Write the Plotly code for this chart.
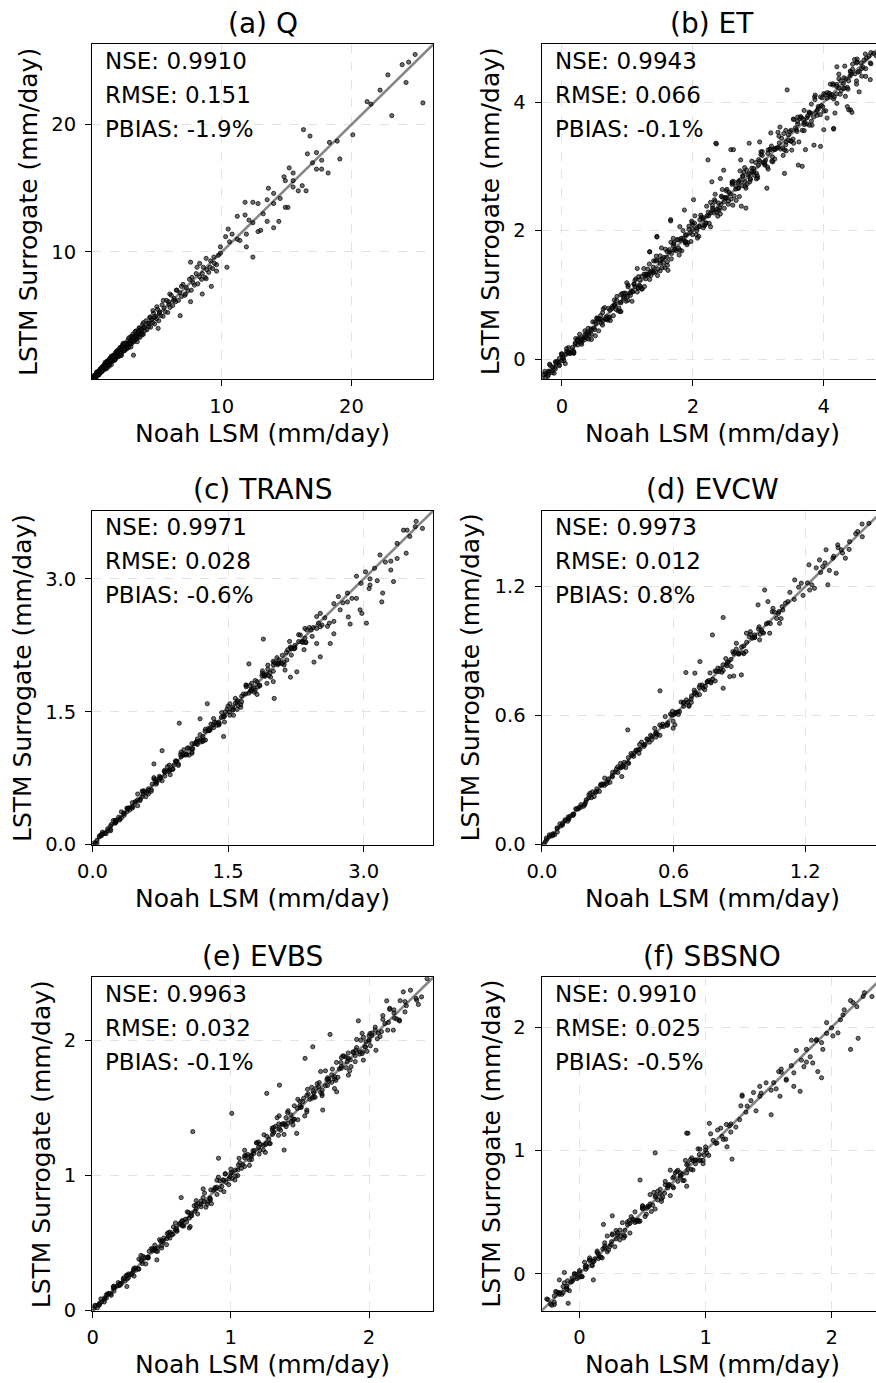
import plotly.graph_objects as go

# (Noah LSM, LSTM surrogate) daily values in mm/day for each flux
q_pairs = [
    (0.03, 0.06), (0.07, 0.02), (0.09, 0.15), (0.12, 0.09), (0.16, 0.04), (0.18, 0.26), (0.22, 0.13), (0.25, 0.31),
    (0.28, 0.2), (0.3, 0.12), (0.33, 0.42), (0.36, 0.27), (0.39, 0.35), (0.42, 0.55), (0.44, 0.31), (0.47, 0.49),
    (0.5, 0.4), (0.53, 0.66), (0.55, 0.43), (0.58, 0.52), (0.61, 0.75), (0.63, 0.5), (0.66, 0.62), (0.7, 0.84),
    (0.72, 0.6), (0.75, 0.7), (0.78, 0.95), (0.81, 0.66), (0.84, 0.9), (0.87, 0.78), (0.9, 1.1), (0.93, 0.8),
    (0.96, 0.99), (1.0, 1.2), (1.02, 0.88), (1.06, 1.07), (1.1, 1.3), (1.13, 0.98), (1.17, 1.22), (1.2, 1.05),
    (1.24, 1.45), (1.27, 1.16), (1.31, 1.36), (1.35, 1.22), (1.38, 1.6), (1.42, 1.3), (1.46, 1.52), (1.5, 1.38),
    (1.53, 1.75), (1.57, 1.45), (1.61, 1.66), (1.65, 1.5), (1.68, 1.92), (1.72, 1.6), (1.76, 1.82), (1.8, 1.68),
    (1.84, 2.1), (1.88, 1.74), (1.92, 1.98), (1.97, 1.86), (2.01, 2.28), (2.05, 1.9), (2.1, 2.14), (2.14, 2.0),
    (2.19, 2.5), (2.23, 2.04), (2.28, 2.33), (2.33, 2.2), (2.37, 2.68), (2.42, 2.22), (2.47, 2.5), (2.52, 2.38),
    (2.57, 2.86), (2.62, 2.36), (2.67, 2.7), (2.72, 2.55), (2.78, 3.1), (2.83, 2.5), (2.88, 2.9), (2.94, 2.75),
    (3.0, 3.35), (3.05, 2.8), (3.1, 3.15), (3.16, 3.55), (3.22, 2.95), (3.28, 3.4), (3.33, 3.1), (3.4, 3.8),
    (3.46, 3.2), (3.52, 3.6), (3.58, 3.35), (3.65, 4.05), (3.7, 3.3), (3.77, 3.85), (3.83, 3.6), (3.9, 4.3),
    (3.96, 3.55), (4.03, 4.1), (4.1, 3.85), (4.17, 4.6), (4.24, 3.9), (4.3, 4.4), (4.38, 4.15), (4.45, 4.85),
    (4.52, 4.1), (4.6, 4.7), (4.68, 4.45), (4.75, 5.2), (4.83, 4.35), (4.9, 4.95), (4.98, 4.75), (5.06, 5.5),
    (5.15, 4.6), (5.22, 5.3), (5.3, 5.0), (5.4, 5.85), (5.48, 4.95), (5.56, 5.6), (5.65, 5.3), (5.75, 6.2),
    (5.84, 5.25), (5.93, 5.9), (6.02, 5.65), (6.12, 6.6), (6.22, 5.8), (6.33, 6.35), (6.45, 6.1), (6.55, 7.0),
    (6.66, 6.2), (6.78, 6.8), (6.9, 6.5), (7.02, 7.45), (7.15, 6.6), (7.27, 7.2), (7.4, 6.95), (7.52, 7.85),
    (7.65, 7.0), (7.78, 7.6), (7.9, 7.4), (8.03, 8.3), (8.16, 7.5), (8.3, 8.05), (8.45, 7.85), (8.58, 8.8),
    (8.72, 8.0), (8.86, 8.6), (9.0, 8.4), (9.15, 9.3), (9.3, 8.7), (9.45, 9.1), (9.6, 9.0), (9.75, 9.75),
    (0.1, 0.11), (0.2, 0.17), (0.3, 0.31), (0.4, 0.42), (0.5, 0.47), (0.6, 0.63), (0.7, 0.72), (0.8, 0.83),
    (0.9, 0.88), (1.0, 1.04), (1.1, 1.12), (1.2, 1.19), (1.3, 1.33), (1.4, 1.42), (1.5, 1.49), (1.6, 1.64),
    (1.7, 1.72), (1.8, 1.79), (1.9, 1.95), (2.0, 2.03), (2.2, 2.19), (2.4, 2.46), (2.6, 2.62), (2.8, 2.78),
    (3.0, 3.06), (3.3, 3.34), (3.6, 3.62), (4.0, 4.05), (4.4, 4.42), (4.8, 4.86),
    (0.05, 0.02), (0.13, 0.28), (0.21, 0.2), (0.29, 0.1), (0.37, 0.45), (0.45, 0.58), (0.53, 0.46), (0.61, 0.65),
    (0.69, 0.55), (0.77, 0.95), (0.85, 0.82), (0.93, 1.03), (1.01, 0.81), (1.09, 1.1), (1.17, 1.43), (1.25, 1.11),
    (1.33, 1.03), (1.41, 1.51), (1.49, 1.82), (1.57, 1.49), (1.65, 1.86), (1.73, 1.49), (1.81, 1.86), (1.89, 1.72),
    (1.97, 2.26), (2.05, 2.01), (2.13, 2.33), (2.21, 1.86), (2.29, 2.4), (2.37, 2.68), (2.45, 2.31), (2.53, 2.26),
    (2.61, 2.77), (2.69, 2.41), (2.77, 2.81), (2.85, 3.26), (2.93, 2.81), (3.01, 2.55), (3.09, 3.39), (3.17, 3.24),
    (3.25, 3.0), (3.33, 3.75), (3.41, 3.38), (3.49, 2.96), (3.57, 3.8), (3.65, 4.01), (3.73, 3.55), (3.81, 3.92),
    (3.89, 3.5), (3.97, 4.45),
    (0.06, 0.04), (0.12, 0.27), (0.18, 0.04), (0.24, 0.28), (0.3, 0.18), (0.36, 0.57), (0.42, 0.4), (0.48, 0.59),
    (0.54, 0.35), (0.6, 0.66), (0.66, 0.83), (0.72, 0.64), (0.78, 0.63), (0.84, 0.93), (0.9, 0.75), (0.96, 0.98),
    (1.02, 1.34), (1.08, 0.99), (1.14, 0.85), (1.2, 1.39), (1.26, 1.3), (1.32, 1.16), (1.38, 1.65), (1.44, 1.42),
    (1.5, 1.16), (1.56, 1.7), (1.62, 1.85), (1.68, 1.56), (1.74, 1.81), (1.8, 1.55), (1.86, 2.17), (1.92, 1.87),
    (1.98, 2.16), (2.04, 1.78), (2.1, 2.11), (2.16, 2.49), (2.22, 2.04), (2.28, 1.89), (2.34, 2.47), (2.4, 2.83),
    (2.46, 2.36), (2.52, 2.8),
    (24.9, 25.5), (24.4, 24.9), (23.9, 24.7), (22.8, 23.9), (24.2, 23.3), (22.2, 22.7), (25.5, 21.7), (21.2, 21.8),
    (21.5, 21.6), (23.1, 20.7), (20.1, 19.2), (16.3, 19.6), (16.8, 19.1), (18.3, 18.6), (18.9, 18.7), (19.1, 17.3),
    (16.6, 17.7), (17.3, 17.8), (17.0, 17.0), (17.7, 17.2), (17.3, 16.5), (18.2, 16.2), (17.7, 16.5), (15.2, 16.6),
    (15.5, 16.2), (14.8, 15.9), (14.9, 15.6), (15.5, 15.1), (16.2, 15.2), (15.9, 14.8), (16.5, 14.8), (15.5, 15.6),
    (13.6, 15.0), (14.0, 14.6), (14.5, 14.2), (14.9, 13.5), (15.1, 13.5), (14.0, 13.8), (13.5, 14.1), (11.8, 13.9),
    (12.4, 13.9), (12.8, 13.8), (13.2, 13.0), (14.4, 12.4), (14.0, 11.9), (13.5, 12.4), (12.8, 11.6), (11.8, 12.9),
    (12.1, 12.5), (11.2, 12.8), (12.4, 12.3), (13.0, 11.7), (11.9, 11.4), (11.9, 10.4), (12.4, 9.6), (10.5, 11.8),
    (10.8, 11.4), (11.2, 11.0), (11.4, 10.9), (10.6, 10.8), (10.3, 11.2), (9.9, 10.4), (10.4, 8.8), (9.9, 9.9),
    (9.4, 9.6), (8.8, 9.5), (8.3, 9.1), (9.1, 8.8), (9.6, 8.5), (7.6, 9.2), (8.1, 8.8), (8.5, 8.3),
    (7.7, 8.0), (8.8, 7.9), (9.2, 7.3), (8.5, 6.7), (7.6, 6.1), (6.9, 7.3), (7.2, 6.7), (6.5, 7.0),
    (6.0, 6.7), (6.3, 6.2), (6.8, 5.0), (5.9, 6.1), (5.5, 6.2), (5.0, 5.7), (5.2, 5.2), (4.7, 5.4),
    (5.1, 4.0), (3.2, 1.9), (4.5, 4.9),
]

et_pairs = [
    (-0.28, -0.24), (-0.25, -0.29), (-0.21, -0.2), (-0.19, -0.08), (-0.15, -0.18), (-0.12, -0.22), (-0.1, -0.04), (-0.06, -0.05),
    (-0.04, -0.09), (-0.01, 0.08), (0.02, 0.01), (0.05, -0.07), (0.07, 0.12), (0.1, 0.18), (0.13, 0.09), (0.16, 0.18),
    (0.18, 0.09), (0.21, 0.32), (0.24, 0.22), (0.27, 0.33), (0.3, 0.23), (0.33, 0.33), (0.35, 0.44), (0.38, 0.33),
    (0.41, 0.31), (0.44, 0.47), (0.47, 0.58), (0.5, 0.46), (0.53, 0.64), (0.56, 0.44), (0.59, 0.62), (0.62, 0.53),
    (0.65, 0.8), (0.68, 0.66), (0.71, 0.79), (0.74, 0.6), (0.77, 0.82), (0.8, 0.92), (0.83, 0.77), (0.86, 0.75),
    (0.89, 0.74), (0.92, 1.02), (0.95, 0.97), (0.98, 0.9), (1.01, 1.15), (1.04, 1.03), (1.07, 0.9), (1.1, 1.17),
    (1.13, 1.25), (1.16, 1.1), (1.19, 1.23), (1.22, 1.09), (1.25, 1.41), (1.28, 1.25), (1.31, 1.4), (1.34, 1.24),
    (1.37, 1.37), (1.4, 1.53), (1.43, 1.36), (1.46, 1.3), (1.49, 1.54), (1.52, 1.73), (1.55, 1.5), (1.58, 1.71),
    (1.61, 1.46), (1.64, 1.67), (1.67, 1.56), (1.7, 1.88), (1.73, 1.71), (1.76, 1.86), (1.79, 1.62), (1.82, 1.88),
    (1.85, 2.0), (1.88, 1.81), (1.91, 1.78), (1.94, 2.02), (1.97, 1.83), (2.0, 2.02), (2.03, 2.23), (2.06, 2.0),
    (2.09, 1.91), (2.12, 2.24), (2.15, 2.18), (2.18, 2.08), (2.21, 2.38), (2.24, 2.23), (2.27, 2.06), (2.3, 2.39),
    (2.33, 2.48), (2.36, 2.29), (2.39, 2.43), (2.42, 2.26), (2.45, 2.64), (2.48, 2.45), (2.51, 2.62), (2.54, 2.41),
    (2.57, 2.57), (2.6, 2.76), (2.63, 2.54), (2.66, 2.47), (2.69, 2.75), (2.72, 2.93), (2.75, 2.7), (2.78, 2.91),
    (2.81, 2.66), (2.84, 2.87), (2.87, 2.76), (2.9, 3.08), (2.93, 2.91), (2.96, 3.06), (2.99, 2.82), (3.02, 3.08),
    (3.06, 3.23), (3.1, 3.02), (3.14, 2.99), (3.18, 3.27), (3.22, 3.07), (3.26, 3.28), (3.3, 3.53), (3.34, 3.27),
    (3.38, 3.17), (3.42, 3.56), (3.46, 3.49), (3.5, 3.39), (3.54, 3.73), (3.58, 3.57), (3.62, 3.38), (3.66, 3.76),
    (3.7, 3.87), (3.74, 3.66), (3.78, 3.83), (3.82, 3.64), (3.86, 4.08), (3.9, 3.87), (3.95, 4.08), (4.0, 3.86),
    (4.05, 4.06), (4.1, 4.28), (4.15, 4.05), (4.2, 3.98), (4.26, 4.33), (4.32, 4.56), (4.38, 4.33), (4.44, 4.59),
    (4.5, 4.33), (4.57, 4.61), (4.64, 4.52), (4.72, 4.77), (4.8, 4.72),
    (-0.2, -0.186), (-0.1, -0.151), (0.0, 0.063), (0.1, 0.09), (0.2, 0.236), (0.3, 0.258), (0.4, 0.401), (0.5, 0.579),
    (0.6, 0.558), (0.7, 0.606), (0.8, 0.831), (0.9, 1.003), (1.0, 0.976), (1.1, 1.166), (1.2, 1.127), (1.3, 1.316),
    (1.4, 1.346), (1.5, 1.608), (1.6, 1.588), (1.7, 1.758), (1.8, 1.697), (1.9, 1.933), (2.0, 2.091), (2.1, 2.059),
    (2.2, 2.121), (2.3, 2.346), (2.4, 2.318), (2.5, 2.511), (2.6, 2.72), (2.7, 2.664), (2.8, 2.69), (2.9, 2.971),
    (3.0, 3.016), (3.1, 3.033), (3.2, 3.316), (3.3, 3.293), (3.4, 3.256), (3.5, 3.562), (3.6, 3.699), (3.7, 3.651),
    (3.8, 3.83), (3.9, 3.794), (4.0, 4.132), (4.1, 4.079), (4.2, 4.275), (4.3, 4.213), (4.4, 4.403), (4.5, 4.61),
    (4.6, 4.542),
    (-0.25, -0.226), (-0.18, -0.1), (-0.11, -0.128), (-0.04, 0.011), (0.03, -0.027), (0.1, 0.113), (0.17, 0.128), (0.24, 0.309),
    (0.31, 0.302), (0.38, 0.417), (0.45, 0.384), (0.52, 0.552), (0.59, 0.677), (0.66, 0.621), (0.73, 0.654), (0.8, 0.844),
    (0.87, 0.792), (0.94, 0.95), (1.01, 1.125), (1.08, 1.046), (1.15, 1.045), (1.22, 1.288), (1.29, 1.305), (1.36, 1.303),
    (1.43, 1.527), (1.5, 1.492), (1.57, 1.422), (1.64, 1.703), (1.71, 1.812), (1.78, 1.729), (1.85, 1.881), (1.92, 1.811),
    (1.99, 2.126), (2.06, 2.038), (2.13, 2.207), (2.2, 2.111), (2.27, 2.273), (2.34, 2.452), (2.41, 2.35), (2.48, 2.346),
    (2.55, 2.595), (2.62, 2.766), (2.69, 2.656), (2.76, 2.854), (2.83, 2.725), (2.9, 2.923), (2.97, 2.893), (3.04, 3.184),
    (3.11, 3.094), (3.18, 3.257), (3.25, 3.114), (3.32, 3.364), (3.39, 3.511), (3.46, 3.406), (3.53, 3.425), (3.6, 3.661),
    (3.67, 3.561), (3.74, 3.754), (3.81, 3.969), (3.88, 3.833), (3.95, 3.805), (4.02, 4.115), (4.09, 4.111), (4.16, 4.081),
    (4.23, 4.365), (4.3, 4.291), (4.37, 4.202), (4.44, 4.512), (4.51, 4.625), (4.58, 4.522), (4.65, 4.685), (4.72, 4.596),
    (-0.215, -0.267), (-0.145, -0.123), (-0.075, -0.039), (-0.005, -0.023), (0.065, 0.076), (0.135, 0.097), (0.205, 0.253), (0.275, 0.267),
    (0.345, 0.372), (0.415, 0.384), (0.485, 0.486), (0.555, 0.614), (0.625, 0.593), (0.695, 0.625), (0.765, 0.788), (0.835, 0.912),
    (0.905, 0.887), (0.975, 1.024), (1.045, 0.99), (1.115, 1.127), (1.185, 1.145), (1.255, 1.321), (1.325, 1.318), (1.395, 1.431),
    (1.465, 1.402), (1.535, 1.56), (1.605, 1.673), (1.675, 1.644), (1.745, 1.686), (1.815, 1.85), (1.885, 1.824), (1.955, 1.963),
    (2.025, 2.115), (2.095, 2.068), (2.165, 2.083), (2.235, 2.288), (2.305, 2.317), (2.375, 2.33), (2.445, 2.521), (2.515, 2.51),
    (2.585, 2.49), (2.655, 2.696), (2.725, 2.79), (2.795, 2.762), (2.865, 2.885), (2.935, 2.865), (3.005, 3.104), (3.075, 3.059),
    (3.145, 3.202), (3.215, 3.149), (3.285, 3.287), (3.355, 3.437), (3.425, 3.381), (3.495, 3.397), (3.565, 3.598), (3.635, 3.742),
    (3.705, 3.68), (3.775, 3.844), (3.845, 3.768), (3.915, 3.932), (3.985, 3.929), (4.055, 4.148), (4.125, 4.115), (4.195, 4.245),
    (4.265, 4.177), (4.335, 4.363), (4.405, 4.483), (4.475, 4.44), (4.545, 4.477), (4.615, 4.655),
    (-0.26, -0.19), (-0.205, -0.237), (-0.15, -0.211), (-0.095, -0.059), (-0.04, -0.103), (0.015, 0.023), (0.07, 0.163), (0.125, 0.097),
    (0.18, 0.095), (0.235, 0.29), (0.29, 0.302), (0.345, 0.299), (0.4, 0.479), (0.455, 0.45), (0.51, 0.363), (0.565, 0.628),
    (0.62, 0.721), (0.675, 0.625), (0.73, 0.761), (0.785, 0.676), (0.84, 0.975), (0.895, 0.874), (0.95, 1.027), (1.005, 0.916),
    (1.06, 1.063), (1.115, 1.227), (1.17, 1.11), (1.225, 1.092), (1.28, 1.324), (1.335, 1.48), (1.39, 1.356), (1.445, 1.538),
    (1.5, 1.373), (1.555, 1.583), (1.61, 1.517), (1.665, 1.818), (1.72, 1.703), (1.775, 1.857), (1.83, 1.684), (1.885, 1.932),
    (1.94, 2.069), (1.995, 1.937), (2.05, 1.938), (2.105, 2.17), (2.16, 2.044), (2.215, 2.23), (2.27, 2.44), (2.325, 2.275),
    (2.38, 2.225), (2.435, 2.536), (2.49, 2.512), (2.545, 2.461), (2.6, 2.744), (2.655, 2.646), (2.71, 2.53), (2.765, 2.842),
    (2.82, 2.943), (2.875, 2.813), (2.93, 2.967), (2.985, 2.852), (3.04, 3.227), (3.095, 3.065), (3.15, 3.256), (3.205, 3.082),
    (3.26, 3.264), (3.315, 3.47), (3.37, 3.287), (3.425, 3.241), (3.48, 3.541), (3.535, 3.736), (3.59, 3.543), (3.645, 3.774),
    (3.7, 3.556), (3.755, 3.787), (3.81, 3.704), (3.865, 4.039), (3.92, 3.901), (3.975, 4.068), (4.03, 3.865), (4.085, 4.138),
    (4.14, 4.286), (4.195, 4.129), (4.25, 4.123), (4.305, 4.379), (4.36, 4.229), (4.415, 4.432), (4.47, 4.663), (4.525, 4.468),
    (4.58, 4.404), (4.635, 4.749), (4.69, 4.715),
    (0.0, 0.081), (0.09, 0.108), (0.18, 0.113), (0.27, 0.386), (0.36, 0.353), (0.45, 0.306), (0.54, 0.632), (0.63, 0.779),
    (0.72, 0.646), (0.81, 0.855), (0.9, 0.74), (0.99, 1.188), (1.08, 1.049), (1.17, 1.283), (1.26, 1.13), (1.35, 1.355),
    (1.44, 1.604), (1.53, 1.423), (1.62, 1.381), (1.71, 1.79), (1.8, 2.061), (1.89, 1.83), (1.98, 2.148), (2.07, 1.883),
    (2.16, 2.201), (2.25, 2.113), (2.34, 2.566), (2.43, 2.405), (2.52, 2.641), (2.61, 2.396), (2.7, 2.769), (2.79, 2.98),
    (2.88, 2.795), (2.97, 2.805), (3.06, 3.169), (3.15, 2.958), (3.24, 3.265), (3.33, 3.612), (3.42, 3.336), (3.51, 3.253),
    (3.6, 3.767), (3.69, 3.727), (3.78, 3.64), (3.87, 4.109), (3.96, 3.945), (4.05, 3.752), (4.14, 4.267), (4.23, 4.435),
    (4.32, 4.218), (4.41, 4.472), (4.5, 4.28),
    (2.35, 3.36), (2.23, 3.1), (2.58, 3.26), (2.86, 3.36), (3.02, 3.38), (3.19, 3.52), (3.61, 3.02), (3.67, 3.0),
    (3.95, 3.31), (4.15, 3.58), (3.4, 2.89), (3.13, 2.66), (2.81, 2.35), (2.74, 2.38), (2.01, 2.48), (1.87, 2.32),
    (1.66, 2.17), (1.45, 1.91), (1.34, 1.67), (1.15, 1.41), (2.73, 3.1), (2.47, 2.94), (2.42, 2.81), (2.29, 2.76),
    (3.72, 3.26), (3.54, 3.36), (3.85, 3.33), (4.0, 3.57), (4.17, 3.83), (4.41, 3.88), (4.43, 3.84), (4.36, 3.93),
    (3.44, 4.19), (4.2, 4.55), (4.51, 4.67), (4.64, 4.4), (4.71, 4.35), (4.38, 3.88), (4.15, 3.59), (4.33, 4.09),
    (4.23, 4.22), (4.54, 4.16), (4.71, 4.61), (4.76, 4.76), (2.36, 3.35), (2.62, 3.26), (1.45, 1.9), (1.66, 2.15),
    (1.34, 1.67),
]

trans_pairs = [
    (0.02, 0.02), (0.05, 0.01), (0.08, 0.1), (0.11, 0.14), (0.14, 0.13), (0.17, 0.18), (0.2, 0.17), (0.23, 0.27),
    (0.26, 0.25), (0.29, 0.31), (0.32, 0.3), (0.35, 0.35), (0.38, 0.41), (0.41, 0.39), (0.44, 0.41), (0.47, 0.48),
    (0.5, 0.57), (0.53, 0.51), (0.56, 0.6), (0.59, 0.54), (0.62, 0.63), (0.65, 0.62), (0.68, 0.74), (0.71, 0.7),
    (0.74, 0.77), (0.77, 0.72), (0.8, 0.82), (0.83, 0.88), (0.86, 0.84), (0.89, 0.85), (0.92, 0.94), (0.95, 0.91),
    (0.98, 0.99), (1.01, 1.07), (1.04, 1.02), (1.07, 1.01), (1.1, 1.14), (1.13, 1.14), (1.16, 1.13), (1.19, 1.24),
    (1.22, 1.22), (1.25, 1.18), (1.28, 1.31), (1.31, 1.36), (1.34, 1.32), (1.37, 1.38), (1.4, 1.35), (1.43, 1.49),
    (1.46, 1.45), (1.49, 1.53), (1.52, 1.46), (1.55, 1.55), (1.58, 1.65), (1.61, 1.57), (1.64, 1.55), (1.67, 1.7),
    (1.7, 1.8), (1.73, 1.71), (1.76, 1.82), (1.79, 1.72), (1.82, 1.84), (1.85, 1.8), (1.88, 1.96), (1.91, 1.9),
    (1.94, 1.98), (1.97, 1.89), (2.0, 2.03), (2.04, 2.11), (2.08, 2.05), (2.12, 2.06), (2.16, 2.2), (2.2, 2.14),
    (2.24, 2.25), (2.28, 2.37), (2.32, 2.29), (2.36, 2.28), (2.4, 2.45), (2.44, 2.45), (2.48, 2.44), (2.52, 2.61),
    (2.57, 2.56), (2.62, 2.5), (2.67, 2.72), (2.72, 2.8), (2.77, 2.73), (2.82, 2.84), (2.87, 2.78), (2.92, 3.03),
    (2.97, 2.95), (3.02, 3.08), (3.07, 3.0), (3.12, 3.12), (3.18, 3.27), (3.24, 3.19), (3.3, 3.2), (3.37, 3.4),
    (3.44, 3.55), (3.51, 3.48), (3.58, 3.65), (3.65, 3.57),
    (0.1, 0.1), (0.25, 0.24), (0.4, 0.41), (0.55, 0.54), (0.7, 0.71), (0.85, 0.84), (1.0, 1.01), (1.15, 1.14),
    (1.3, 1.31), (1.45, 1.44), (1.6, 1.61), (1.75, 1.74), (1.9, 1.91), (2.05, 2.03), (2.2, 2.21), (2.35, 2.33),
    (2.5, 2.5),
    (0.03, 0.01), (0.075, 0.088), (0.12, 0.123), (0.165, 0.154), (0.21, 0.228), (0.255, 0.254), (0.3, 0.277), (0.345, 0.355),
    (0.39, 0.406), (0.435, 0.427), (0.48, 0.485), (0.525, 0.495), (0.57, 0.607), (0.615, 0.609), (0.66, 0.681), (0.705, 0.681),
    (0.75, 0.751), (0.795, 0.826), (0.84, 0.824), (0.885, 0.848), (0.93, 0.942), (0.975, 1.015), (1.02, 1.011), (1.065, 1.091),
    (1.11, 1.081), (1.155, 1.161), (1.2, 1.179), (1.245, 1.279), (1.29, 1.286), (1.335, 1.353), (1.38, 1.347), (1.425, 1.436),
    (1.47, 1.499), (1.515, 1.496), (1.56, 1.524), (1.605, 1.626), (1.65, 1.613), (1.695, 1.7), (1.74, 1.795), (1.785, 1.769),
    (1.83, 1.78), (1.875, 1.907), (1.92, 1.927), (1.965, 1.938), (2.01, 2.056), (2.055, 2.052), (2.1, 2.042), (2.145, 2.17),
    (2.19, 2.23), (2.235, 2.215), (2.28, 2.292), (2.325, 2.282), (2.37, 2.423),
    (0.05, 0.047), (0.1, 0.115), (0.15, 0.123), (0.2, 0.209), (0.25, 0.273), (0.3, 0.289), (0.35, 0.33), (0.4, 0.412),
    (0.45, 0.429), (0.5, 0.505), (0.55, 0.604), (0.6, 0.584), (0.65, 0.601), (0.7, 0.732), (0.75, 0.757), (0.8, 0.773),
    (0.85, 0.896), (0.9, 0.897), (0.95, 0.893), (1.0, 1.024), (1.05, 1.089), (1.1, 1.08), (1.15, 1.162), (1.2, 1.158),
    (1.25, 1.302), (1.3, 1.292), (1.35, 1.38), (1.4, 1.365), (1.45, 1.451), (1.5, 1.562), (1.55, 1.517), (1.6, 1.526),
    (1.65, 1.675), (1.7, 1.781), (1.75, 1.731), (1.8, 1.852), (1.85, 1.792), (1.9, 1.913), (1.95, 1.907), (2.0, 2.07),
    (2.05, 2.042), (2.1, 2.137), (2.15, 2.084), (2.2, 2.221),
    (0.2, 0.155), (0.26, 0.275), (0.32, 0.369), (0.38, 0.369), (0.44, 0.472), (0.5, 0.438), (0.56, 0.574), (0.62, 0.574),
    (0.68, 0.755), (0.74, 0.732), (0.8, 0.84), (0.86, 0.789), (0.92, 0.943), (0.98, 1.043), (1.04, 1.012), (1.1, 1.045),
    (1.16, 1.192), (1.22, 1.164), (1.28, 1.287), (1.34, 1.423), (1.4, 1.375), (1.46, 1.384), (1.52, 1.59), (1.58, 1.596),
    (1.64, 1.581), (1.7, 1.8), (1.76, 1.753), (1.82, 1.695), (1.88, 1.933), (1.94, 2.026), (2.0, 1.957), (2.06, 2.086),
    (2.12, 2.028), (2.18, 2.294), (2.24, 2.222), (2.3, 2.365), (2.36, 2.285), (2.42, 2.423), (2.48, 2.575), (2.54, 2.479),
    (2.6, 2.464),
    (3.48, 3.55), (3.57, 3.59), (3.47, 3.29), (3.37, 3.23), (3.3, 3.1), (3.33, 2.97), (3.21, 2.84), (3.2, 2.74),
    (3.06, 2.89), (3.03, 2.5), (2.98, 2.61), (2.96, 2.65), (2.85, 2.49), (2.83, 2.57), (2.67, 2.38), (2.63, 2.27),
    (2.52, 2.12), (2.45, 2.06), (2.35, 2.44), (2.26, 1.95), (2.19, 1.89), (2.13, 1.97), (2.0, 1.84), (2.01, 1.65),
    (1.89, 2.32), (1.73, 2.04), (1.93, 1.82), (1.8, 1.74), (1.56, 1.46), (1.45, 1.22), (1.27, 1.59), (1.19, 1.42),
    (0.96, 1.37), (0.77, 1.06), (0.68, 0.91), (1.23, 1.18), (1.1, 1.03), (3.15, 2.98), (3.07, 2.93), (2.92, 2.78),
    (2.82, 2.74), (2.74, 2.65), (2.67, 2.52), (2.52, 2.46), (2.43, 2.35), (2.32, 2.29), (2.23, 2.21), (2.34, 2.2),
    (2.48, 2.27),
]

evcw_pairs = [
    (0.01, 0.002), (0.022, 0.022), (0.034, 0.045), (0.046, 0.04), (0.058, 0.045), (0.07, 0.074), (0.082, 0.096), (0.094, 0.091),
    (0.106, 0.115), (0.118, 0.108), (0.13, 0.132), (0.142, 0.135), (0.154, 0.166), (0.166, 0.165), (0.178, 0.185), (0.19, 0.178),
    (0.202, 0.208), (0.214, 0.231), (0.226, 0.218), (0.238, 0.223), (0.25, 0.259), (0.262, 0.247), (0.274, 0.276), (0.286, 0.309),
    (0.298, 0.291), (0.31, 0.289), (0.322, 0.336), (0.334, 0.337), (0.346, 0.335), (0.358, 0.377), (0.37, 0.369), (0.382, 0.358),
    (0.394, 0.404), (0.406, 0.423), (0.418, 0.41), (0.43, 0.435), (0.442, 0.424), (0.454, 0.476), (0.466, 0.463), (0.478, 0.491),
    (0.49, 0.476), (0.502, 0.503), (0.514, 0.54), (0.526, 0.512), (0.538, 0.508), (0.55, 0.56), (0.562, 0.595), (0.574, 0.566),
    (0.586, 0.607), (0.598, 0.574), (0.61, 0.615), (0.622, 0.605), (0.634, 0.663), (0.646, 0.643), (0.658, 0.673), (0.67, 0.643),
    (0.682, 0.691), (0.694, 0.718), (0.706, 0.695), (0.718, 0.697), (0.73, 0.742), (0.742, 0.72), (0.754, 0.757), (0.766, 0.798),
    (0.778, 0.769), (0.79, 0.761), (0.802, 0.821), (0.814, 0.818), (0.826, 0.81), (0.838, 0.865), (0.85, 0.848), (0.862, 0.828),
    (0.874, 0.888), (0.886, 0.909), (0.898, 0.886), (0.91, 0.919), (0.93, 0.898), (0.95, 0.99), (0.97, 0.964), (0.99, 1.013),
    (1.01, 0.984), (1.03, 1.031), (1.05, 1.083), (1.07, 1.052), (1.09, 1.051), (1.11, 1.123), (1.13, 1.173), (1.15, 1.14),
    (1.17, 1.197), (1.19, 1.159), (1.21, 1.217), (1.23, 1.208), (1.25, 1.287), (1.27, 1.266), (1.29, 1.31), (1.31, 1.275),
    (1.33, 1.341), (1.35, 1.381), (1.37, 1.356), (1.4, 1.373), (1.43, 1.446), (1.46, 1.432), (1.49, 1.494),
    (0.05, 0.05), (0.12, 0.121), (0.2, 0.198), (0.28, 0.282), (0.36, 0.358), (0.44, 0.442), (0.52, 0.518), (0.6, 0.603),
    (0.68, 0.677), (0.76, 0.763), (0.84, 0.838), (0.92, 0.924), (1.0, 0.997), (1.08, 1.084),
    (0.015, 0.012), (0.033, 0.035), (0.051, 0.045), (0.069, 0.077), (0.087, 0.086), (0.105, 0.11), (0.123, 0.118), (0.141, 0.141),
    (0.159, 0.166), (0.177, 0.173), (0.195, 0.187), (0.213, 0.217), (0.231, 0.245), (0.249, 0.246), (0.267, 0.276), (0.285, 0.275),
    (0.303, 0.305), (0.321, 0.314), (0.339, 0.351), (0.357, 0.356), (0.375, 0.382), (0.393, 0.381), (0.411, 0.415), (0.429, 0.439),
    (0.447, 0.442), (0.465, 0.456), (0.483, 0.488), (0.501, 0.488), (0.519, 0.521), (0.537, 0.556), (0.555, 0.549), (0.573, 0.556),
    (0.591, 0.602), (0.609, 0.612), (0.627, 0.618), (0.645, 0.661), (0.663, 0.662), (0.681, 0.661), (0.699, 0.708), (0.717, 0.731),
    (0.735, 0.728), (0.753, 0.757), (0.771, 0.756), (0.789, 0.807), (0.807, 0.804), (0.825, 0.836), (0.843, 0.831), (0.861, 0.861),
    (0.879, 0.894), (0.897, 0.889), (0.915, 0.892), (0.933, 0.941), (0.951, 0.977), (0.969, 0.963), (0.987, 1.003), (1.005, 0.987),
    (1.023, 1.027), (1.041, 1.028), (1.059, 1.081), (1.077, 1.075), (1.095, 1.107),
    (0.02, 0.03), (0.045, 0.044), (0.07, 0.058), (0.095, 0.1), (0.12, 0.128), (0.145, 0.141), (0.17, 0.173), (0.195, 0.186),
    (0.22, 0.239), (0.245, 0.242), (0.27, 0.281), (0.295, 0.283), (0.32, 0.32), (0.345, 0.361), (0.37, 0.362), (0.395, 0.377),
    (0.42, 0.426), (0.445, 0.465), (0.47, 0.465), (0.495, 0.508), (0.52, 0.5), (0.545, 0.55), (0.57, 0.555), (0.595, 0.62),
    (0.62, 0.617), (0.645, 0.658), (0.67, 0.647), (0.695, 0.703), (0.72, 0.741), (0.745, 0.736), (0.77, 0.752), (0.795, 0.806),
    (0.82, 0.801), (0.845, 0.847), (0.87, 0.897), (0.895, 0.887), (0.92, 0.888), (0.945, 0.966), (0.97, 0.975), (0.995, 0.978),
    (1.459, 1.491), (1.439, 1.456), (1.383, 1.332), (1.341, 1.262), (1.303, 1.208), (1.295, 1.371), (1.265, 1.324), (1.217, 1.301),
    (1.152, 1.231), (1.22, 1.184), (1.242, 1.192), (1.015, 1.184), (0.985, 1.115), (1.083, 1.029), (1.038, 0.983), (0.992, 0.952),
    (0.959, 0.96), (0.826, 1.056), (0.777, 0.975), (0.72, 0.851), (0.656, 0.8), (0.697, 0.797), (0.826, 0.727), (0.856, 0.781),
    (0.874, 0.784), (0.909, 0.789), (0.538, 0.715), (0.598, 0.541), (0.606, 0.557), (0.391, 0.533), (0.364, 0.316), (0.886, 0.936),
    (0.932, 0.983), (1.03, 1.13), (1.053, 1.099), (1.098, 1.091), (1.121, 1.13), (1.182, 1.216), (1.28, 1.293), (1.326, 1.332),
    (1.364, 1.371), (1.402, 1.409), (1.348, 1.394),
]

evbs_pairs = [
    (0.01, 0.015), (0.035, 0.02), (0.06, 0.085), (0.085, 0.082), (0.11, 0.123), (0.135, 0.112), (0.16, 0.168), (0.185, 0.206),
    (0.21, 0.201), (0.235, 0.217), (0.26, 0.27), (0.285, 0.266), (0.31, 0.314), (0.335, 0.38), (0.36, 0.347), (0.385, 0.344),
    (0.41, 0.437), (0.435, 0.441), (0.46, 0.438), (0.485, 0.524), (0.51, 0.508), (0.535, 0.487), (0.56, 0.58), (0.585, 0.618),
    (0.61, 0.594), (0.635, 0.645), (0.66, 0.625), (0.685, 0.729), (0.71, 0.699), (0.735, 0.775), (0.76, 0.714), (0.785, 0.787),
    (0.81, 0.868), (0.835, 0.804), (0.86, 0.79), (0.885, 0.908), (0.91, 0.986), (0.935, 0.917), (0.96, 1.009), (0.985, 0.931),
    (1.01, 1.022), (1.035, 0.995), (1.06, 1.126), (1.085, 1.078), (1.11, 1.145), (1.135, 1.073), (1.16, 1.18), (1.185, 1.24),
    (1.21, 1.185), (1.235, 1.187), (1.26, 1.288), (1.285, 1.235), (1.31, 1.318), (1.335, 1.426), (1.36, 1.333), (1.385, 1.302),
    (1.41, 1.464), (1.435, 1.447), (1.46, 1.415), (1.485, 1.562), (1.51, 1.505), (1.535, 1.439), (1.56, 1.601), (1.585, 1.651),
    (1.61, 1.577), (1.635, 1.655), (1.66, 1.589), (1.685, 1.773), (1.71, 1.696), (1.735, 1.785), (1.76, 1.702), (1.785, 1.787),
    (1.81, 1.883), (1.835, 1.796), (1.86, 1.773), (1.885, 1.914), (1.91, 2.005), (1.935, 1.913), (1.96, 2.021), (1.985, 1.917),
    (2.02, 2.035), (2.06, 2.01), (2.1, 2.182), (2.14, 2.131), (2.18, 2.224), (2.22, 2.142), (2.26, 2.285), (2.3, 2.369),
    (2.34, 2.309), (2.38, 2.32), (2.42, 2.455),
    (0.05, 0.052), (0.1, 0.092), (0.15, 0.164), (0.2, 0.199), (0.25, 0.233), (0.3, 0.312), (0.35, 0.37), (0.4, 0.39),
    (0.45, 0.456), (0.5, 0.479), (0.55, 0.576), (0.6, 0.596), (0.65, 0.665), (0.7, 0.683), (0.75, 0.751), (0.8, 0.835),
    (0.85, 0.831), (0.9, 0.858), (0.95, 0.964), (1.0, 1.046), (1.05, 1.039), (1.1, 1.129), (1.15, 1.117), (1.2, 1.207),
    (1.25, 1.226), (1.3, 1.349), (1.35, 1.345), (1.4, 1.426), (1.45, 1.403), (1.5, 1.515), (1.55, 1.591), (1.6, 1.581),
    (1.65, 1.614), (1.7, 1.721), (1.75, 1.713), (1.8, 1.805), (1.85, 1.905), (1.9, 1.884), (1.95, 1.9), (2.0, 2.032),
    (0.02, 0.038), (0.065, 0.062), (0.11, 0.12), (0.155, 0.143), (0.2, 0.2), (0.245, 0.26), (0.29, 0.282), (0.335, 0.305),
    (0.38, 0.39), (0.425, 0.458), (0.47, 0.462), (0.515, 0.536), (0.56, 0.536), (0.605, 0.61), (0.65, 0.632), (0.695, 0.724),
    (0.74, 0.735), (0.785, 0.81), (0.83, 0.786), (0.875, 0.889), (0.92, 0.959), (0.965, 0.948), (1.01, 0.976), (1.055, 1.075),
    (1.1, 1.065), (1.145, 1.149), (1.19, 1.241), (1.235, 1.22), (1.28, 1.234), (1.325, 1.363), (1.37, 1.378), (1.415, 1.384),
    (1.46, 1.514), (1.505, 1.502), (1.55, 1.483), (1.595, 1.624), (1.64, 1.686), (1.685, 1.662), (1.73, 1.744), (1.775, 1.725),
    (1.82, 1.882), (1.865, 1.855), (1.91, 1.945), (1.955, 1.914), (2.0, 2.001), (2.045, 2.096), (2.09, 2.063), (2.135, 2.074),
    (2.18, 2.2), (2.225, 2.292), (2.27, 2.255),
    (0.042, 0.041), (0.087, 0.093), (0.132, 0.121), (0.177, 0.18), (0.222, 0.231), (0.267, 0.263), (0.312, 0.298), (0.357, 0.365),
    (0.402, 0.388), (0.447, 0.449), (0.492, 0.512), (0.537, 0.531), (0.582, 0.563), (0.627, 0.639), (0.672, 0.675), (0.717, 0.701),
    (0.762, 0.79), (0.807, 0.805), (0.852, 0.817), (0.897, 0.912), (0.942, 0.966), (0.987, 0.975), (1.032, 1.039), (1.077, 1.051),
    (1.122, 1.154), (1.167, 1.162), (1.212, 1.23), (1.257, 1.236), (1.302, 1.303), (1.347, 1.38), (1.392, 1.374), (1.437, 1.398),
    (1.482, 1.495), (1.527, 1.57), (1.572, 1.562), (1.617, 1.644), (1.662, 1.631), (1.707, 1.714), (1.752, 1.73), (1.797, 1.834),
    (1.842, 1.838), (1.887, 1.907), (1.932, 1.897), (1.977, 1.988), (2.022, 2.053), (2.067, 2.053),
    (0.015, 0.034), (0.05, 0.04), (0.085, 0.063), (0.12, 0.127), (0.155, 0.179), (0.19, 0.184), (0.225, 0.241), (0.26, 0.243),
    (0.295, 0.299), (0.33, 0.309), (0.365, 0.4), (0.4, 0.396), (0.435, 0.454), (0.47, 0.437), (0.505, 0.516), (0.54, 0.569),
    (0.575, 0.562), (0.61, 0.585), (0.645, 0.66), (0.68, 0.654), (0.715, 0.72), (0.75, 0.812), (0.785, 0.767), (0.82, 0.764),
    (0.855, 0.892), (0.89, 0.898), (0.925, 0.894), (0.96, 1.012), (0.995, 0.992), (1.03, 0.965), (1.065, 1.093), (1.1, 1.145),
    (1.135, 1.113), (1.17, 1.184), (1.205, 1.157), (1.24, 1.3), (1.275, 1.265), (1.31, 1.353), (1.345, 1.296), (1.38, 1.382),
    (1.415, 1.477), (1.45, 1.417), (1.485, 1.411), (1.52, 1.545), (1.555, 1.636), (1.59, 1.571), (1.625, 1.677), (1.66, 1.602),
    (1.695, 1.708), (1.73, 1.688), (1.765, 1.835), (1.8, 1.792), (1.835, 1.872), (1.87, 1.804), (1.905, 1.926), (1.94, 1.999),
    (1.975, 1.949), (2.01, 1.959), (2.045, 2.075), (2.08, 2.027), (2.115, 2.122), (2.15, 2.227), (2.185, 2.162), (2.22, 2.149),
    (0.1, 0.116), (0.15, 0.176), (0.2, 0.187), (0.25, 0.258), (0.3, 0.254), (0.35, 0.407), (0.4, 0.391), (0.45, 0.483),
    (0.5, 0.462), (0.55, 0.551), (0.6, 0.647), (0.65, 0.625), (0.7, 0.61), (0.75, 0.78), (0.8, 0.899), (0.85, 0.827),
    (0.9, 0.963), (0.95, 0.879), (1.0, 1.016), (1.05, 0.998), (1.1, 1.185), (1.15, 1.141), (1.2, 1.246), (1.25, 1.169),
    (1.3, 1.333), (1.35, 1.44), (1.4, 1.36), (1.45, 1.372), (1.5, 1.546), (1.55, 1.469), (1.6, 1.61), (1.65, 1.768),
    (1.7, 1.665), (1.75, 1.642), (1.8, 1.87), (1.85, 1.866), (1.9, 1.841), (1.95, 2.05), (2.0, 1.993), (2.05, 1.925),
    (2.1, 2.153), (2.15, 2.236), (2.2, 2.157),
    (2.357, 2.264), (2.248, 2.357), (2.128, 2.291), (1.923, 2.143), (1.718, 2.042), (1.593, 1.951), (1.537, 1.865), (2.007, 2.049),
    (1.971, 1.951), (1.352, 1.667), (1.26, 1.606), (1.007, 1.458), (0.725, 1.323), (0.911, 1.126), (0.641, 0.835), (1.386, 1.187),
    (1.477, 1.31), (1.665, 1.483), (1.766, 1.618), (1.851, 1.741), (1.959, 1.852), (2.176, 2.074), (2.26, 2.209), (2.345, 2.296),
    (0.706, 0.621), (0.465, 0.374), (0.248, 0.177),
]

sbsno_pairs = [
    (-0.26, -0.205), (-0.23, -0.246), (-0.2, -0.25), (-0.18, -0.148), (-0.16, -0.153), (-0.14, -0.167), (-0.12, -0.074), (-0.1, -0.103),
    (-0.08, -0.138), (-0.06, -0.035), (-0.04, 0.0), (-0.02, -0.04), (0.0, 0.012), (0.02, -0.023), (0.04, 0.093), (0.06, 0.052),
    (0.08, 0.11), (0.1, 0.065), (0.12, 0.121), (0.14, 0.184), (0.16, 0.137), (0.18, 0.128), (0.2, 0.226), (0.22, 0.306),
    (0.24, 0.22), (0.26, 0.315), (0.28, 0.219), (0.3, 0.314), (0.32, 0.275), (0.34, 0.414), (0.36, 0.352), (0.38, 0.42),
    (0.4, 0.33), (0.42, 0.443), (0.44, 0.502), (0.46, 0.432), (0.48, 0.426), (0.5, 0.532), (0.52, 0.464), (0.54, 0.547),
    (0.56, 0.642), (0.58, 0.556), (0.6, 0.525), (0.62, 0.669), (0.64, 0.651), (0.66, 0.62), (0.68, 0.749), (0.7, 0.696),
    (0.72, 0.634), (0.74, 0.777), (0.76, 0.819), (0.78, 0.75), (0.8, 0.818), (0.82, 0.756), (0.84, 0.919), (0.86, 0.847),
    (0.88, 0.925), (0.9, 0.842), (0.92, 0.922), (0.94, 1.013), (0.96, 0.921), (0.98, 0.893), (1.0, 1.029), (1.04, 1.135),
    (1.08, 1.058), (1.12, 1.181), (1.16, 1.092), (1.2, 1.215), (1.24, 1.19), (1.28, 1.362), (1.32, 1.311), (1.36, 1.404),
    (1.4, 1.322), (1.44, 1.465), (1.48, 1.549), (1.52, 1.489), (1.56, 1.5), (1.6, 1.635), (1.64, 1.578), (1.68, 1.688),
    (1.72, 1.811), (1.76, 1.733), (1.8, 1.717), (1.84, 1.894), (1.88, 1.892), (1.92, 1.875), (1.96, 2.037), (2.0, 1.995),
    (2.05, 1.954), (2.1, 2.141), (2.15, 2.216), (2.2, 2.167), (2.26, 2.28), (2.32, 2.249),
    (-0.1, -0.121), (-0.05, -0.049), (0.0, 0.026), (0.05, 0.036), (0.1, 0.069), (0.15, 0.16), (0.2, 0.251), (0.25, 0.238),
    (0.3, 0.333), (0.35, 0.313), (0.4, 0.408), (0.45, 0.423), (0.5, 0.544), (0.55, 0.545), (0.6, 0.624), (0.65, 0.608),
    (0.7, 0.714), (0.75, 0.787), (0.8, 0.783), (0.85, 0.818), (0.9, 0.919), (0.95, 0.917), (1.0, 1.004),
    (-0.2, -0.231), (-0.165, -0.158), (-0.13, -0.153), (-0.095, -0.058), (-0.06, -0.064), (-0.025, -0.005), (0.01, -0.025), (0.045, 0.056),
    (0.08, 0.111), (0.115, 0.101), (0.15, 0.123), (0.185, 0.201), (0.22, 0.178), (0.255, 0.26), (0.29, 0.351), (0.325, 0.307),
    (0.36, 0.304), (0.395, 0.431), (0.43, 0.438), (0.465, 0.435), (0.5, 0.552), (0.535, 0.532), (0.57, 0.505), (0.605, 0.633),
    (0.64, 0.685), (0.675, 0.653), (0.71, 0.724), (0.745, 0.697), (0.78, 0.839), (0.815, 0.806), (0.85, 0.884), (0.885, 0.846),
    (0.92, 0.922), (0.955, 1.01), (0.99, 0.961), (1.025, 0.96), (1.06, 1.082), (1.095, 1.166), (1.13, 1.114), (1.165, 1.211),
    (1.2, 1.149),
    (-0.22, -0.256), (-0.19, -0.145), (-0.16, -0.167), (-0.13, -0.104), (-0.1, -0.13), (-0.07, -0.069), (-0.04, -0.003), (-0.01, -0.03),
    (0.02, -0.024), (0.05, 0.065), (0.08, 0.128), (0.11, 0.099), (0.14, 0.171), (0.17, 0.135), (0.2, 0.211), (0.23, 0.192),
    (0.26, 0.323), (0.29, 0.283), (0.32, 0.354), (0.35, 0.29), (0.38, 0.399), (0.41, 0.463), (0.44, 0.416), (0.47, 0.424),
    (0.5, 0.527), (0.53, 0.483), (0.56, 0.566), (0.59, 0.66), (0.62, 0.599), (0.65, 0.587), (0.68, 0.721), (0.71, 0.719),
    (0.74, 0.706), (0.77, 0.829), (0.8, 0.796), (0.83, 0.757), (0.86, 0.891), (0.89, 0.94), (0.92, 0.892), (0.95, 0.967),
    (0.98, 0.92),
    (2.21, 1.91), (2.15, 1.82), (2.01, 1.93), (1.92, 1.59), (1.89, 1.64), (1.75, 1.48), (1.7, 1.52), (1.59, 1.44),
    (1.52, 1.29), (1.43, 1.44), (1.29, 1.45), (1.21, 0.93), (1.17, 1.03), (1.03, 1.22), (0.85, 1.14), (0.86, 1.14),
    (0.6, 0.98), (0.72, 0.84), (0.85, 0.71), (0.48, 0.76), (0.26, 0.47), (0.19, 0.4), (0.11, -0.05), (-0.09, -0.24),
    (-0.25, -0.21), (-0.2, -0.18), (-0.16, -0.05), (-0.12, 0.01), (1.54, 1.55), (1.58, 1.64), (1.6, 1.66), (1.8, 1.82),
    (1.83, 1.76), (1.96, 1.95), (2.07, 2.06), (2.17, 2.2), (2.25, 2.25), (2.09, 2.1), (1.88, 1.9), (1.93, 1.82),
    (1.85, 1.71), (1.78, 1.68), (1.7, 1.63), (1.64, 1.57), (1.43, 1.52), (1.38, 1.47), (1.29, 1.44), (1.33, 1.36),
    (1.27, 1.25), (1.19, 1.2), (1.14, 1.09), (1.09, 1.06), (1.01, 0.98),
]

panel_titles = ["(a) Q", "(b) ET", "(c) TRANS", "(d) EVCW", "(e) EVBS", "(f) SBSNO"]
nse_text = ["0.9910", "0.9943", "0.9971", "0.9973", "0.9963", "0.9910"]
rmse_text = ["0.151", "0.066", "0.028", "0.012", "0.032", "0.025"]
pbias_text = ["-1.9%", "-0.1%", "-0.6%", "0.8%", "-0.1%", "-0.5%"]
axis_limits = [(0.03, 26.3), (-0.31, 4.90), (-0.002, 3.77), (-0.001, 1.553), (-0.002, 2.465), (-0.30, 2.405)]
tick_values = [[10, 20], [0, 2, 4], [0, 1.5, 3.0], [0, 0.6, 1.2], [0, 1, 2], [0, 1, 2]]
tick_text = [["10", "20"], ["0", "2", "4"], ["0.0", "1.5", "3.0"], ["0.0", "0.6", "1.2"], ["0", "1", "2"], ["0", "1", "2"]]
all_pairs = [q_pairs, et_pairs, trans_pairs, evcw_pairs, evbs_pairs, sbsno_pairs]

# ---- page geometry (pixels) ----
W, H = 876, 1383
col_span = [(92.3, 433.3), (541.7, 882.7)]        # full axes width; right column runs off the page
row_span = [(44.3, 379.0), (510.7, 844.7), (977.3, 1310.7)]
ylabel_gap = [64, 51, 70, 71, 51, 51]              # distance of y label from left spine
FONT = "DejaVu Sans"


def px_x(v):
    return v / W


def px_y(v):
    return 1 - v / H


fig = go.Figure()
annotations = []
layout_axes = {}

for i, pairs in enumerate(all_pairs):
    r, c = divmod(i, 2)
    n = i + 1
    xa = "x" if n == 1 else f"x{n}"
    ya = "y" if n == 1 else f"y{n}"
    left, right = col_span[c]
    top, bottom = row_span[r]
    lo, hi = axis_limits[i]
    vis_right = min(right, W)
    x_hi = lo + (hi - lo) * (vis_right - left) / (right - left)

    # 1:1 reference line, drawn beneath the points
    fig.add_trace(go.Scatter(
        x=[lo, hi], y=[lo, hi], mode="lines", xaxis=xa, yaxis=ya, hoverinfo="skip",
        line=dict(color="rgba(128,128,128,0.95)", width=2.6),
    ))
    xs = [p[0] for p in pairs]
    ys = [p[1] for p in pairs]
    fig.add_trace(go.Scatter(
        x=xs, y=ys, mode="markers", xaxis=xa, yaxis=ya, hoverinfo="skip",
        marker=dict(size=4.2, color="rgba(15,15,15,0.6)",
                    line=dict(width=0.8, color="rgba(0,0,0,0.9)")),
    ))

    common = dict(
        showline=True, linecolor="black", linewidth=1.4,
        ticks="outside", ticklen=6, tickwidth=1.4, tickcolor="black",
        tickfont=dict(family=FONT, size=19.5, color="black"),
        showgrid=True, gridcolor="#e3e3e3", gridwidth=1.1, griddash="dash",
        zeroline=False, tickvals=tick_values[i], ticktext=tick_text[i],
        fixedrange=True, automargin=False,
    )
    layout_axes["xaxis" if n == 1 else f"xaxis{n}"] = dict(
        common, domain=[px_x(left), px_x(vis_right)], range=[lo, x_hi],
        anchor=ya, mirror=True, ticklabelstandoff=3,
    )
    layout_axes["yaxis" if n == 1 else f"yaxis{n}"] = dict(
        common, domain=[px_y(bottom), px_y(top)], range=[lo, hi],
        anchor=xa, mirror=(c == 0), ticklabelstandoff=5,
    )

    cx = (left + right) / 2
    annotations.append(dict(
        text=panel_titles[i], x=px_x(cx), y=px_y(top - 21), xref="paper", yref="paper",
        xanchor="center", yanchor="middle", showarrow=False,
        font=dict(family=FONT, size=28, color="black"),
    ))
    annotations.append(dict(
        text="Noah LSM (mm/day)", x=px_x(cx), y=px_y(bottom + 54), xref="paper", yref="paper",
        xanchor="center", yanchor="middle", showarrow=False,
        font=dict(family=FONT, size=25, color="black"),
    ))
    annotations.append(dict(
        text="LSTM Surrogate (mm/day)", x=px_x(left - ylabel_gap[i]), y=px_y((top + bottom) / 2),
        xref="paper", yref="paper", xanchor="center", yanchor="middle", textangle=-90, showarrow=False,
        font=dict(family=FONT, size=25, color="black"),
    ))
    for k, line in enumerate([f"NSE: {nse_text[i]}", f"RMSE: {rmse_text[i]}", f"PBIAS: {pbias_text[i]}"]):
        annotations.append(dict(
            text=line, x=px_x(left + 12), y=px_y(top + 16.7 + 34 * k), xref="paper", yref="paper",
            xanchor="left", yanchor="middle", showarrow=False, borderpad=0,
            font=dict(family=FONT, size=23, color="black"),
        ))

fig.update_layout(
    width=W, height=H, margin=dict(l=0, r=0, t=0, b=0),
    paper_bgcolor="white", plot_bgcolor="white", showlegend=False,
    annotations=annotations, **layout_axes,
)

fig.write_html("out.html")
